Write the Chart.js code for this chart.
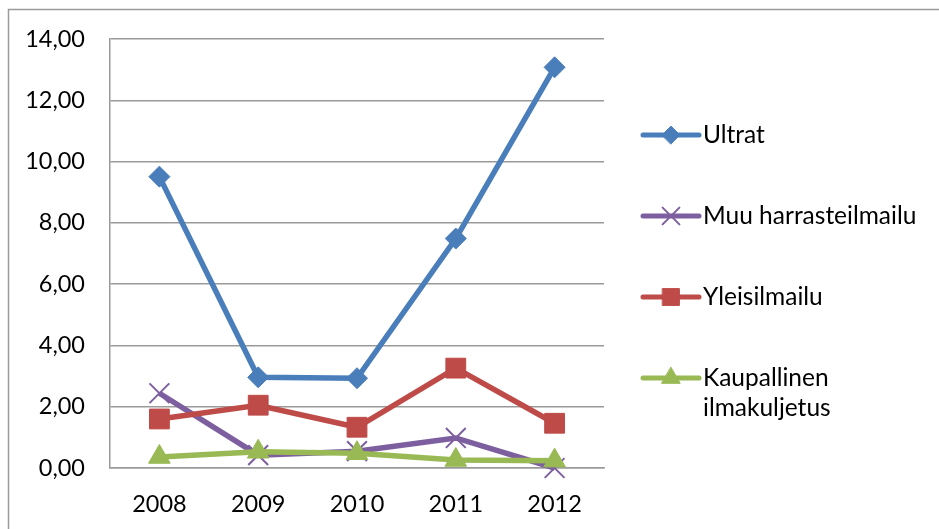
<!DOCTYPE html>
<html>
<head>
<meta charset="utf-8">
<script src="https://cdn.jsdelivr.net/npm/chart.js@4.4.0/dist/chart.umd.min.js"></script>
<style>
    body { margin: 0; background: #fff; }
    #wrap { width: 939px; height: 529px; position: relative; }
</style>
</head>
<body>
<div id="wrap"><canvas id="lineChart" width="939" height="529"></canvas></div>
<script>
// data
var years = ['2008', '2009', '2010', '2011', '2012'];
var ultrat = [9.51, 2.96, 2.93, 7.49, 13.08];
var muuHarraste = [2.44, 0.42, 0.55, 0.98, 0.00];
var yleisilmailu = [1.60, 2.05, 1.33, 3.26, 1.46];
var kaupallinen = [0.36, 0.53, 0.48, 0.26, 0.24];
var seriesNames = ['Ultrat', 'Muu harrasteilmailu', 'Yleisilmailu', 'Kaupallinen ilmakuljetus'];
var yTicks = [0, 2, 4, 6, 8, 10, 12, 14];

var FONT = 'Lato, "Open Sans", sans-serif';

function fmt(v) {
    return v.toFixed(2).replace('.', ',');
}

// frame round the whole chart
var framePlugin = {
    id: 'frame',
    beforeDraw: function (chart) {
        var c = chart.ctx;
        c.save();
        c.strokeStyle = '#9a9a9a';
        c.lineWidth = 1.5;
        c.beginPath();
        c.moveTo(8.5, 529);
        c.lineTo(8.5, 9.5);
        c.lineTo(939, 9.5);
        c.stroke();
        c.restore();
    }
};

// legend on the right, one entry per series
var sideLegend = {
    id: 'sideLegend',
    afterDraw: function (chart) {
        var c = chart.ctx;
        var x0 = 643, x1 = 699, tx = 703;
        var y = 135, step = 81, lineH = 30;
        c.save();
        c.font = '24.5px ' + FONT;
        c.textBaseline = 'middle';
        chart.data.datasets.forEach(function (ds, i) {
            var yy = y + i * step;
            c.strokeStyle = ds.borderColor;
            c.lineWidth = 5;
            c.lineCap = 'round';
            c.beginPath();
            c.moveTo(x0, yy);
            c.lineTo(x1, yy);
            c.stroke();
            c.fillStyle = ds.pointBackgroundColor;
            c.strokeStyle = ds.pointBorderColor;
            c.lineWidth = ds.pointBorderWidth;
            Chart.helpers.drawPoint(c, {
                pointStyle: ds.pointStyle,
                radius: ds.pointRadius * 0.85,
                rotation: 0,
                borderWidth: ds.pointBorderWidth
            }, (x0 + x1) / 2, yy);
            // wrap long names
            c.fillStyle = '#000';
            var words = ds.label.split(' ');
            var lines = [];
            var cur = '';
            words.forEach(function (w) {
                var test = cur ? cur + ' ' + w : w;
                if (c.measureText(test).width > 228 && cur) {
                    lines.push(cur);
                    cur = w;
                } else {
                    cur = test;
                }
            });
            lines.push(cur);
            lines.forEach(function (ln, k) {
                c.fillText(ln, tx, yy + k * lineH);
            });
        });
        c.restore();
    }
};

// later series are painted on top, like the original
function series(label, data, color, style, radius, bw, order) {
    return {
        label: label,
        data: data,
        order: order,
        borderColor: color,
        backgroundColor: color,
        borderWidth: 5.5,
        pointStyle: style,
        pointRadius: radius,
        pointHoverRadius: radius,
        pointBackgroundColor: color,
        pointBorderColor: color,
        pointBorderWidth: bw,
        tension: 0,
        clip: false
    };
}

var ctx = document.getElementById('lineChart').getContext('2d');
new Chart(ctx, {
    type: 'line',
    data: {
        labels: years,
        datasets: [
            series(seriesNames[0], ultrat, '#4a7ebb', 'rectRot', 10.5, 1, 3),
            series(seriesNames[1], muuHarraste, '#7d5fa0', 'crossRot', 14, 2, 2),
            series(seriesNames[2], yleisilmailu, '#be4b48', 'rect', 14, 1, 1),
            series(seriesNames[3], kaupallinen, '#98b954', 'triangle', 12.5, 1, 0)
        ]
    },
    options: {
        responsive: false,
        animation: false,
        events: [],
        layout: { padding: { left: 0, top: 39, right: 335, bottom: 0 } },
        plugins: {
            legend: { display: false },
            tooltip: { enabled: false }
        },
        scales: {
            x: {
                offset: true,
                grid: { display: false, drawTicks: false },
                border: { display: true, color: '#9a9a9a', width: 1.5 },
                ticks: {
                    color: '#000',
                    padding: 22,
                    font: { family: FONT, size: 23.5 }
                },
                afterFit: function (scale) { scale.height = 61; }
            },
            y: {
                min: 0,
                max: 14,
                afterBuildTicks: function (scale) {
                    scale.ticks = yTicks.map(function (v) { return { value: v }; });
                },
                grid: { color: '#9a9a9a', lineWidth: 1.5, drawTicks: false },
                border: { display: true, color: '#9a9a9a', width: 1.5 },
                ticks: {
                    color: '#000',
                    padding: 25,
                    font: { family: FONT, size: 23.5 },
                    callback: function (v) { return fmt(v); }
                },
                afterFit: function (scale) { scale.width = 110; }
            }
        }
    },
    plugins: [framePlugin, sideLegend]
});
</script>
</body>
</html>
